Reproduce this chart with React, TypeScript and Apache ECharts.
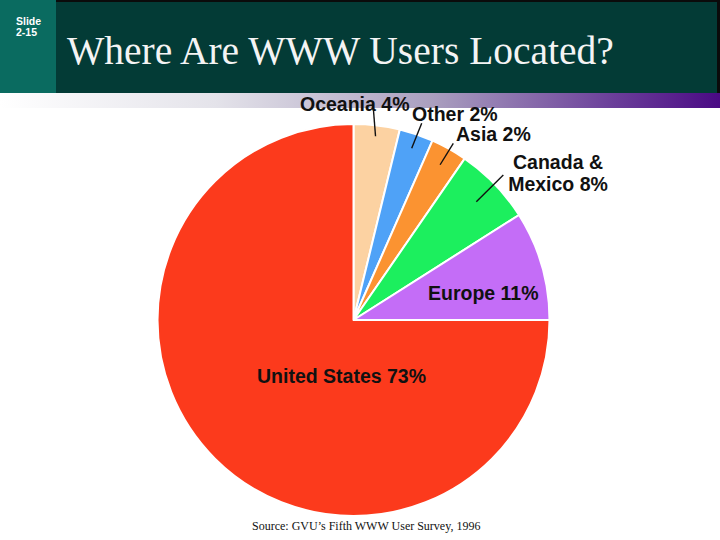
import React, { useEffect, useRef } from 'react';
import * as echarts from 'echarts';

// ---- data ----
const regions = ['Oceania', 'Other', 'Asia', 'Canada &\nMexico', 'Europe', 'United States'];
const reportedPct = [4, 2, 2, 8, 11, 73];
// slice sizes as drawn in the picture (share of the full circle, %)
const sliceShares = [3.8, 2.8, 3.0, 6.4, 9.0, 75.0];
const sliceColors = ['#fcd2a2', '#4fa2f7', '#fb9331', '#1cef5e', '#c46df7', '#fc3a1c'];

const titleText = 'Where Are WWW Users Located?';
const slideWord = 'Slide';
const slideNumber = '2-15';
const sourceText = 'Source: GVU\u2019s Fifth WWW User Survey, 1996';

// ---- layout ----
const CX = 353.5;
const CY = 320;
const R = 196;
const labelAnchors = [
  { x: 300, y: 104, align: 'left' },
  { x: 412, y: 114, align: 'left' },
  { x: 456, y: 134, align: 'left' },
  { x: 558, y: 173, align: 'center' },
  { x: 428, y: 293, align: 'left' },
  { x: 257, y: 376, align: 'left' },
];
const leaderStartFrac = [0.944, 0.925, 0.907, 0.87];
const leaderEndOffset = [
  [73, 0],
  [9.7, 9.3],
  [-2.7, 9.3],
  [-54.7, 2],
];

export default function App() {
  const ref = useRef<HTMLDivElement>(null);

  useEffect(() => {
    document.body.style.margin = '0';
    if (!ref.current) return;
    const chart = echarts.init(ref.current, undefined, { renderer: 'svg' });

    const total = sliceShares.reduce((a, b) => a + b, 0);
    const midAngles: number[] = [];
    let cum = 0;
    sliceShares.forEach((s) => {
      midAngles.push(((cum + s / 2) / total) * Math.PI * 2);
      cum += s;
    });

    // leader lines: from inside each small slice (at its mid-angle) to its label
    const leaders = leaderStartFrac.map((frac, i) => {
      const f = frac * R;
      const a = labelAnchors[i];
      return {
        type: 'line',
        z: 100,
        silent: true,
        shape: {
          x1: CX + f * Math.sin(midAngles[i]),
          y1: CY - f * Math.cos(midAngles[i]),
          x2: a.x + leaderEndOffset[i][0],
          y2: a.y + leaderEndOffset[i][1],
        },
        style: { stroke: '#111111', lineWidth: 1.4 },
      };
    });

    chart.setOption({
      animation: false,
      backgroundColor: '#ffffff',
      graphic: [
        { type: 'rect', z: 0, shape: { x: 56, y: 0, width: 664, height: 93 }, style: { fill: '#0b0b0b' }, silent: true },
        { type: 'rect', z: 0, shape: { x: 56, y: 2, width: 661, height: 91 }, style: { fill: '#033b36' }, silent: true },
        { type: 'rect', z: 0, shape: { x: 0, y: 0, width: 56, height: 93 }, style: { fill: '#0a6b60' }, silent: true },
        {
          type: 'rect',
          z: 0,
          shape: { x: 0, y: 93, width: 720, height: 15 },
          style: {
            fill: new echarts.graphic.LinearGradient(0, 0, 1, 0, [
              { offset: 0, color: '#ffffff' },
              { offset: 0.3, color: '#e4e3ea' },
              { offset: 0.6, color: '#aa9fbf' },
              { offset: 0.85, color: '#6b3f9a' },
              { offset: 1, color: '#4a0a84' },
            ]),
          },
          silent: true,
        },
        {
          type: 'text',
          z: 1,
          x: 16,
          y: 21,
          style: {
            text: slideWord,
            fill: '#ffffff',
            font: 'bold 10.5px "Liberation Sans", Arial, sans-serif',
            verticalAlign: 'middle',
            align: 'left',
          },
          silent: true,
        },
        {
          type: 'text',
          z: 1,
          x: 16,
          y: 32,
          style: {
            text: slideNumber,
            fill: '#ffffff',
            font: 'bold 10.5px "Liberation Sans", Arial, sans-serif',
            verticalAlign: 'middle',
            align: 'left',
          },
          silent: true,
        },
        {
          type: 'text',
          z: 1,
          x: 67,
          y: 51,
          style: {
            text: titleText,
            fill: '#f4f4f4',
            font: '39.5px "Liberation Serif", "Times New Roman", serif',
            verticalAlign: 'middle',
            align: 'left',
            shadowColor: '#6f7f7b',
            shadowOffsetX: 2,
            shadowOffsetY: 2,
            shadowBlur: 1,
          },
          silent: true,
        },
        {
          type: 'text',
          z: 1,
          x: 252,
          y: 526,
          style: {
            text: sourceText,
            fill: '#111111',
            font: '12px "Liberation Serif", "Times New Roman", serif',
            verticalAlign: 'middle',
            align: 'left',
          },
          silent: true,
        },
        ...leaders,
      ],
      series: [
        {
          type: 'pie',
          center: [CX, CY],
          radius: R,
          startAngle: 90,
          clockwise: true,
          avoidLabelOverlap: false,
          silent: true,
          emphasis: { disabled: true },
          itemStyle: { borderColor: '#ffffff', borderWidth: 2 },
          label: {
            show: true,
            position: 'outside',
            formatter: (p: any) => `${regions[p.dataIndex]} ${reportedPct[p.dataIndex]}%`,
            color: '#111111',
            fontFamily: '"Liberation Sans", Arial, sans-serif',
            fontWeight: 'bold',
            fontSize: 19.5,
            lineHeight: 19.5,
          },
          labelLine: { show: false },
          labelLayout: (p: any) => {
            const a = labelAnchors[p.dataIndex];
            return { x: a.x, y: a.y, align: a.align, verticalAlign: 'middle' };
          },
          data: regions.map((n, i) => ({
            name: n,
            value: sliceShares[i],
            itemStyle: { color: sliceColors[i] },
            label: i === 3 ? { lineHeight: 22 } : undefined,
          })),
        },
      ],
    });

    return () => chart.dispose();
  }, []);

  return <div ref={ref} style={{ width: 720, height: 540 }} />;
}
